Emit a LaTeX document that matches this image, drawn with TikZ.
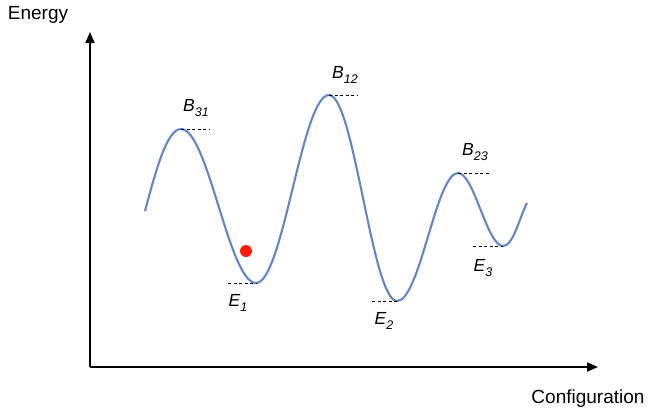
\documentclass[tikz,border=0pt]{standalone}
\usepackage{fontspec}
\setmainfont{Liberation Sans}
\usetikzlibrary{arrows.meta}
\definecolor{curveblue}{RGB}{96,135,200}
\definecolor{dotred}{RGB}{250,30,10}
\newcommand{\lvl}[2]{\textit{#1}\raisebox{-0.45ex}{\fontsize{12.5}{12.5}\selectfont\textit{#2}}}
\begin{document}
\begin{tikzpicture}[x=1pt,y=-1pt,
  axis/.style={line width=1.8pt,-{Triangle[length=11pt,width=9pt]}},
  curve/.style={curveblue,line width=2.1pt},
  level/.style={black,line width=0.9pt,dash pattern=on 3pt off 2.5pt},
  lbl/.style={font=\fontsize{17.5}{17.5}\selectfont,inner sep=0pt},
  axlbl/.style={font=\fontsize{19}{19}\selectfont,inner sep=0pt}]
\useasboundingbox (0,0) rectangle (648,416);
% axes
\coordinate (o) at (90,367);
\coordinate (ytop) at (90,32);
\coordinate (xend) at (598,367);
\draw[axis] (o) -- (ytop);
\draw[axis] (o) -- (xend);
\node[axlbl] (energy) at (38,15) {Energy};
\node[axlbl] (config) at (588,399) {Configuration};
% extremes
\coordinate (s) at (145,211);
\coordinate (b31) at (181,129);
\coordinate (e1) at (256,283);
\coordinate (b12) at (329,95);
\coordinate (e2) at (397,301);
\coordinate (b23) at (458,173);
\coordinate (e3) at (503,246);
\coordinate (t) at (527,203);
% curve
\draw[curve] (s) .. controls (156,170) and (167,129) .. (b31)
  .. controls (208,129) and (229,283) .. (e1)
  .. controls (283,283) and (302,95) .. (b12)
  .. controls (354,95) and (372,301) .. (e2)
  .. controls (420,301) and (436,173) .. (b23)
  .. controls (474,173) and (487,246) .. (e3)
  .. controls (513,246) and (519,219) .. (t);
% levels
\coordinate (b31r) at (209,129);
\coordinate (e1l) at (228,283);
\coordinate (b12r) at (358,95);
\coordinate (e2l) at (372,301);
\coordinate (b23r) at (489,173);
\coordinate (e3l) at (473,246);
\draw[level] (b31) -- (b31r);
\draw[level] (e1l) -- (e1);
\draw[level] (b12) -- (b12r);
\draw[level] (e2l) -- (e2);
\draw[level] (b23) -- (b23r);
\draw[level] (e3l) -- (e3);
% labels
\node[lbl] (lb31) at (196,108) {\lvl{B}{31}};
\node[lbl] (le1) at (238,303) {\lvl{E}{1}};
\node[lbl] (lb12) at (345,75) {\lvl{B}{12}};
\node[lbl] (le2) at (384,321) {\lvl{E}{2}};
\node[lbl] (lb23) at (475,152) {\lvl{B}{23}};
\node[lbl] (le3) at (483,268) {\lvl{E}{3}};
% particle
\node[circle,fill=dotred,inner sep=0pt,minimum size=12pt] (dot) at (246,251) {};
\end{tikzpicture}
\end{document}
